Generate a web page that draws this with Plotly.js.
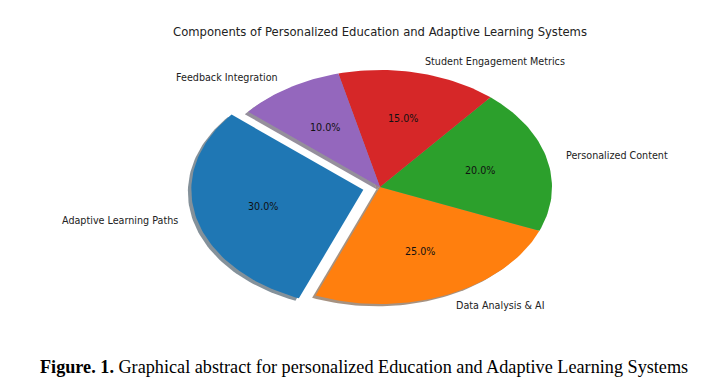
<!DOCTYPE html>
<html>
<head>
<meta charset="utf-8">
<script src="https://cdn.plot.ly/plotly-3.0.1.min.js"></script>
<style>html,body{margin:0;padding:0;background:#fff;}#chart{width:726px;height:386px;}</style>
</head>
<body>
<div id="chart"></div>
<script>
// Data
const labels = ["Adaptive Learning Paths", "Data Analysis & AI", "Personalized Content", "Student Engagement Metrics", "Feedback Integration"];
const values = [30, 25, 20, 15, 10];
const explode = [0.1, 0, 0, 0, 0];
const colors = ["#1f77b4", "#ff7f0e", "#2ca02c", "#d62728", "#9467bd"];
const startAngle = 140;
const chartTitle = "Components of Personalized Education and Adaptive Learning Systems";
const caption = "<b>Figure. 1.</b> Graphical abstract for personalized Education and Adaptive Learning Systems";

const total = values.reduce((a, b) => a + b, 0);
const shadowTraces = [];
const wedgeTraces = [];
const annotations = [];
const deg = Math.PI / 180;

function wedge(cx, cy, t1, t2) {
  const xs = [cx], ys = [cy];
  const n = Math.max(8, Math.ceil((t2 - t1) / 1.5));
  for (let i = 0; i <= n; i++) {
    const t = (t1 + (t2 - t1) * i / n) * deg;
    xs.push(cx + Math.cos(t));
    ys.push(cy + Math.sin(t));
  }
  xs.push(cx); ys.push(cy);
  return [xs, ys];
}
function shade(hex) {
  const r = parseInt(hex.slice(1, 3), 16), g = parseInt(hex.slice(3, 5), 16), b = parseInt(hex.slice(5, 7), 16);
  return `rgba(${Math.round(r * 0.3)},${Math.round(g * 0.3)},${Math.round(b * 0.3)},0.5)`;
}

let theta = startAngle;
values.forEach((v, i) => {
  const t1 = theta, t2 = theta + 360 * v / total;
  const mid = (t1 + t2) / 2 * deg;
  const cx = explode[i] * Math.cos(mid), cy = explode[i] * Math.sin(mid);
  const [sx, sy] = wedge(cx - 0.02, cy - 0.02, t1, t2);
  shadowTraces.push({x: sx, y: sy, type: 'scatter', mode: 'lines', fill: 'toself',
    fillcolor: shade(colors[i]), line: {width: 0, color: 'rgba(0,0,0,0)'}, hoverinfo: 'skip', showlegend: false});
  const [wx, wy] = wedge(cx, cy, t1, t2);
  wedgeTraces.push({x: wx, y: wy, type: 'scatter', mode: 'lines', fill: 'toself',
    fillcolor: colors[i], line: {width: 0, color: 'rgba(0,0,0,0)'}, hoverinfo: 'skip', showlegend: false});
  const lx = cx + 1.1 * Math.cos(mid), ly = cy + 1.1 * Math.sin(mid);
  annotations.push({x: lx, y: ly, xref: 'x', yref: 'y', text: labels[i], showarrow: false,
    xanchor: lx > 0 ? 'left' : 'right', yanchor: 'middle',
    font: {family: 'DejaVu Sans', size: 9.6, color: '#222'}});
  const px = cx + 0.6 * Math.cos(mid), py = cy + 0.6 * Math.sin(mid);
  annotations.push({x: px, y: py, xref: 'x', yref: 'y', text: (100 * v / total).toFixed(1) + '%', showarrow: false,
    xanchor: 'center', yanchor: 'middle', font: {family: 'DejaVu Sans', size: 9.6, color: '#111'}});
  theta = t2;
});

annotations.push({x: 364 / 726, y: 1 - 367 / 386, xref: 'paper', yref: 'paper', text: caption, showarrow: false,
  xanchor: 'center', yanchor: 'middle', font: {family: 'Liberation Serif', size: 18.2, color: '#000'}});

const layout = {
  width: 726, height: 386,
  margin: {l: 0, r: 0, t: 0, b: 0},
  paper_bgcolor: '#fff', plot_bgcolor: '#fff',
  title: {text: chartTitle, x: 380 / 726, xanchor: 'center', y: 1 - 32 / 386, yanchor: 'middle',
    font: {family: 'DejaVu Sans', size: 11.6, color: '#222'}},
  xaxis: {range: [-380 / 172, (726 - 380) / 172], visible: false, fixedrange: true},
  yaxis: {range: [-(386 - 187) / 117, 187 / 117], visible: false, fixedrange: true},
  annotations: annotations,
  showlegend: false
};
Plotly.newPlot('chart', shadowTraces.concat(wedgeTraces), layout, {displayModeBar: false, staticPlot: true});
</script>
</body>
</html>
